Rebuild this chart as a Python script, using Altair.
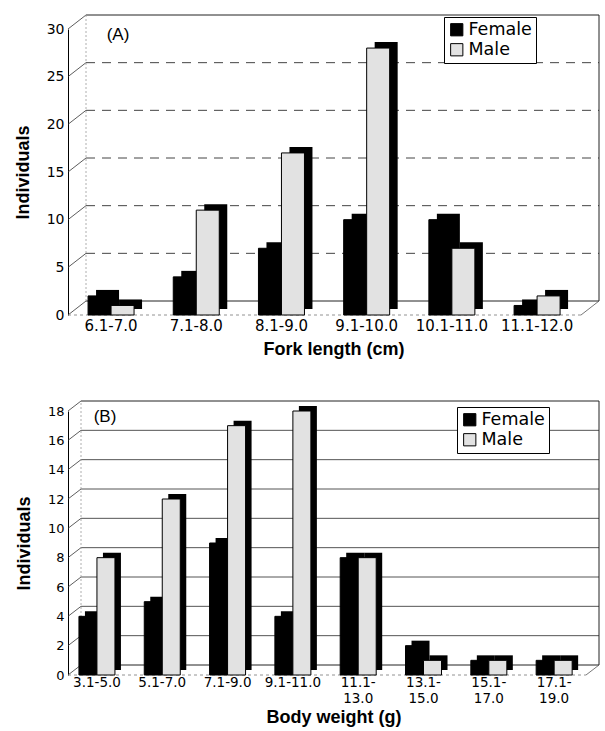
import altair as alt
import pandas as pd

# ---------------- data ----------------
sexes = ["Female", "Male"]

fork_cats = ["6.1-7.0", "7.1-8.0", "8.1-9.0", "9.1-10.0", "10.1-11.0", "11.1-12.0"]
fork_female = [2, 4, 7, 10, 10, 1]
fork_male = [1, 11, 17, 28, 7, 2]
fork_ticks = [0, 5, 10, 15, 20, 25, 30]

wt_cats = ["3.1-5.0", "5.1-7.0", "7.1-9.0", "9.1-11.0",
           "11.1-13.0", "13.1-15.0", "15.1-17.0", "17.1-19.0"]
wt_female = [4, 5, 9, 4, 8, 2, 1, 1]
wt_male = [8, 12, 17, 18, 8, 1, 1, 1]
wt_ticks = [0, 2, 4, 6, 8, 10, 12, 14, 16, 18]

TITLE_FONT = "Liberation Sans"
LABEL_FONT = "DejaVu Sans"


def panel(cats, fem, mal, ticks, W, H, dx, dy, bw, sdx, sdy, pi, po, al,
          tag, tag_x, xtitle, xlab_size, ylab_size, grid_dash, grid_color,
          leg_x, leg_y, lab_pad, xtitle_pad, wrap):
    ymax = ticks[-1]
    df = pd.DataFrame({
        "cat": cats * 2,
        "sex": ["Female"] * len(cats) + ["Male"] * len(cats),
        "n": fem + mal,
    })
    tdf = pd.DataFrame({"v": ticks})
    inner = pd.DataFrame({"v": [t for t in ticks if 0 < t < ymax]})
    edges = pd.DataFrame({"v": [0, ymax]})
    span = pd.DataFrame({"lo": [0], "hi": [ymax]})

    xs = alt.Scale(domain=cats, paddingInner=pi, paddingOuter=po, align=al)
    ys = alt.Scale(domain=[0, ymax], nice=False)
    cs = alt.Scale(domain=sexes, range=["#000000", "#e2e2e2"])

    xa = dict(
        title=xtitle, titleFont=TITLE_FONT, titleFontSize=18, titleFontWeight="bold",
        titleColor="black", titlePadding=xtitle_pad,
        labelFont=LABEL_FONT, labelFontSize=xlab_size, labelColor="black", labelAngle=0,
        labelPadding=lab_pad, labelLineHeight=16, ticks=False, domain=False, grid=False,
    )
    if wrap:
        xa["labelExpr"] = ("length(datum.value) > 8 ? "
                           "[slice(datum.value, 0, 5), slice(datum.value, 5)] : datum.value")
    x_axis = alt.Axis(**xa)
    y_axis = alt.Axis(
        title="Individuals", titleFont=TITLE_FONT, titleFontSize=18, titleFontWeight="bold",
        titleColor="black", titlePadding=14,
        labelFont=LABEL_FONT, labelFontSize=ylab_size, labelColor="black", labelPadding=4,
        values=ticks, ticks=False, domain=True, domainColor="black", domainWidth=1, grid=False,
    )

    offs = {"Female": -bw / 2, "Male": bw / 2}

    def Xf():
        return alt.X("cat:N", scale=xs, sort=cats, axis=x_axis)

    def Yf(f):
        return alt.Y(f, scale=ys, axis=y_axis)

    grid = alt.Chart(inner).mark_rule(
        color=grid_color, strokeWidth=1, strokeDash=grid_dash, yOffset=-dy
    ).encode(y=Yf("v:Q"), x=alt.value(dx), x2=alt.value(W))
    wall_edges = alt.Chart(edges).mark_rule(
        color="#222222", strokeWidth=1, yOffset=-dy
    ).encode(y=Yf("v:Q"), x=alt.value(dx), x2=alt.value(W))
    diag = alt.Chart(tdf).mark_rule(color="#333333", strokeWidth=0.8, y2Offset=-dy).encode(
        y=Yf("v:Q"), y2="v:Q", x=alt.value(0), x2=alt.value(dx)
    )
    right_edge = alt.Chart(span).mark_rule(
        color="#222222", strokeWidth=1, yOffset=-dy, y2Offset=-dy
    ).encode(y=Yf("lo:Q"), y2="hi:Q", x=alt.value(W))
    left_edge = alt.Chart(span).mark_rule(
        color="#999999", strokeWidth=0.8, strokeDash=[2, 2], yOffset=-dy, y2Offset=-dy
    ).encode(y=Yf("lo:Q"), y2="hi:Q", x=alt.value(dx))
    floor_front = alt.Chart(span).mark_rule(
        color="#777777", strokeWidth=0.8, strokeDash=[3, 3]
    ).encode(y=Yf("lo:Q"), x=alt.value(0), x2=alt.value(W - dx))
    floor_diag = alt.Chart(span).mark_rule(
        color="#555555", strokeWidth=0.8, y2Offset=-dy
    ).encode(y=Yf("lo:Q"), y2="lo:Q", x=alt.value(W - dx), x2=alt.value(W))

    layers = [grid, wall_edges, diag, right_edge, left_edge, floor_front, floor_diag]

    for s in sexes:
        layers.append(
            alt.Chart(df[df.sex == s]).mark_bar(
                color="black", width=bw, xOffset=offs[s] + sdx,
                yOffset=-sdy, y2Offset=-sdy
            ).encode(x=Xf(), y=Yf("n:Q"))
        )
    legend = alt.Legend(
        orient="none", legendX=leg_x, legendY=leg_y, title=None,
        strokeColor="black", fillColor="white", padding=4,
        symbolType="square", symbolSize=150, symbolStrokeColor="black",
        symbolStrokeWidth=1, labelFont=LABEL_FONT, labelFontSize=17.5,
        labelColor="black", rowPadding=1, labelOffset=3,
    )
    for s in sexes:
        layers.append(
            alt.Chart(df[df.sex == s]).mark_bar(
                width=bw, xOffset=offs[s], stroke="black", strokeWidth=1
            ).encode(x=Xf(), y=Yf("n:Q"), color=alt.Color("sex:N", scale=cs, legend=legend))
        )
    tag_df = pd.DataFrame({"t": [tag]})
    layers.append(
        alt.Chart(tag_df).mark_text(
            font=TITLE_FONT, fontSize=17, color="black", align="center", baseline="middle"
        ).encode(text="t:N", x=alt.value(tag_x), y=alt.value(6))
    )
    return alt.layer(*layers).properties(width=W, height=H)


chart_a = panel(fork_cats, fork_female, fork_male, fork_ticks,
                W=531, H=286, dx=18, dy=14, bw=23, sdx=8, sdy=6,
                pi=0.46, po=0.346, al=0.34, tag="(A)", tag_x=50,
                xtitle="Fork length (cm)", xlab_size=15, ylab_size=14,
                grid_dash=[9, 7], grid_color="#444444",
                leg_x=376, leg_y=-12, lab_pad=3, xtitle_pad=7, wrap=False)

chart_b = panel(wt_cats, wt_female, wt_male, wt_ticks,
                W=531, H=264, dx=13, dy=10, bw=18, sdx=6, sdy=5,
                pi=0.45, po=0.29, al=0.29, tag="(B)", tag_x=37,
                xtitle="Body weight (g)", xlab_size=13.5, ylab_size=13,
                grid_dash=[1, 0], grid_color="#555555",
                leg_x=389, leg_y=-4, lab_pad=0, xtitle_pad=4, wrap=True)

chart = alt.vconcat(chart_a, chart_b, spacing=42).resolve_scale(
    color="independent"
).resolve_legend(
    color="independent"
).configure_view(
    stroke=None
).properties(
    padding={"left": 14, "top": 14, "right": 2, "bottom": 2},
    background="white",
)

chart.save("out.html", embed_options={"renderer": "svg", "actions": False})
